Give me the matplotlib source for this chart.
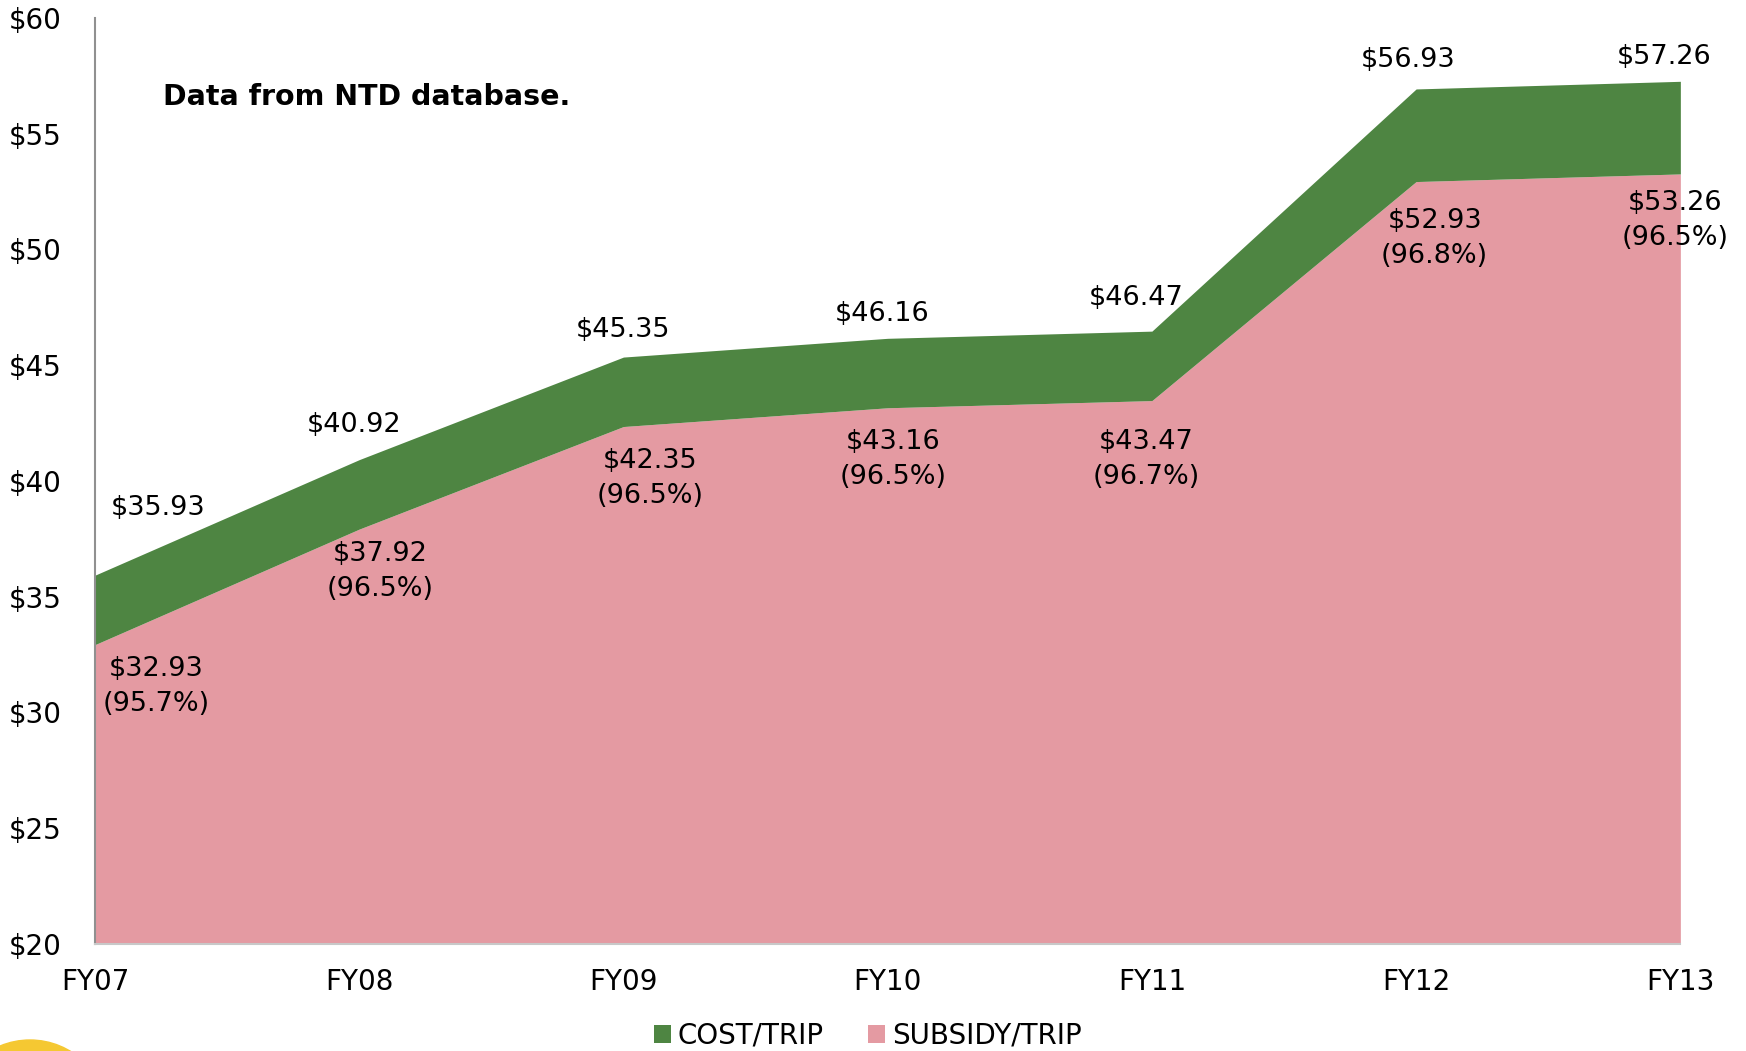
import matplotlib.pyplot as plt
from matplotlib.patches import Circle

# data
years = ["FY07", "FY08", "FY09", "FY10", "FY11", "FY12", "FY13"]
cost = [35.93, 40.92, 45.35, 46.16, 46.47, 56.93, 57.26]
subsidy = [32.93, 37.92, 42.35, 43.16, 43.47, 52.93, 53.26]
subsidy_pct = [95.7, 96.5, 96.5, 96.5, 96.7, 96.8, 96.5]

# label offsets (x, y) in data units
cost_off = [(0.24, 2.9), (-0.02, 1.5), (0.0, 1.15), (-0.02, 1.05), (-0.06, 1.45), (-0.03, 1.25), (-0.06, 1.05)]
sub_off = [(0.23, -1.8), (0.08, -1.85), (0.1, -2.25), (0.02, -2.25), (-0.02, -2.55), (0.07, -2.45), (-0.02, -2.0)]

green = "#4E8542"
pink = "#E49AA2"

plt.rcParams['font.family'] = ['DejaVu Sans']
fig = plt.figure(figsize=(17.46, 10.51), dpi=100)
ax = fig.add_axes([0.0544, 0.1018, 0.908, 0.8812])

x = list(range(len(years)))
ax.fill_between(x, 20, subsidy, color=pink, linewidth=0, label="SUBSIDY/TRIP")
ax.fill_between(x, subsidy, cost, color=green, linewidth=0, label="COST/TRIP")

for i in x:
    ax.text(i + cost_off[i][0], cost[i] + cost_off[i][1], "$%.2f" % cost[i],
            ha="center", va="center", fontsize=19.5)
    ax.text(i + sub_off[i][0], subsidy[i] + sub_off[i][1],
            "$%.2f\n(%.1f%%)" % (subsidy[i], subsidy_pct[i]),
            ha="center", va="center", fontsize=19.5, linespacing=1.45)

ax.text(0.043, 0.915, "Data from NTD database.", transform=ax.transAxes,
        fontsize=20.5, fontweight="bold", va="center")

ax.set_xlim(0, 6)
ax.set_ylim(20, 60)
ax.set_xticks(x)
ax.set_xticklabels(years)
ax.set_yticks(range(20, 61, 5))
ax.set_yticklabels(["$%d" % v for v in range(20, 61, 5)])
ax.tick_params(axis="both", length=0, labelsize=20)
ax.tick_params(axis="y", pad=24)
ax.tick_params(axis="x", pad=17)
for s in ["top", "right"]:
    ax.spines[s].set_visible(False)
ax.spines["left"].set_color("#909090")
ax.spines["left"].set_linewidth(1.5)
ax.spines["bottom"].set_color("#c8c8c8")
ax.spines["bottom"].set_linewidth(1.5)

h, l = ax.get_legend_handles_labels()
fig.legend(h[::-1], l[::-1], loc="center", bbox_to_anchor=(0.497, 0.0145), ncol=2,
           frameon=False, fontsize=20, handlelength=0.6, handleheight=0.6,
           handletextpad=0.25, columnspacing=1.6)

fig.patches.append(Circle((0.3, -0.67), 0.78, transform=fig.dpi_scale_trans,
                          color="#F5C832", zorder=0))

plt.savefig("out.png", dpi=100)
